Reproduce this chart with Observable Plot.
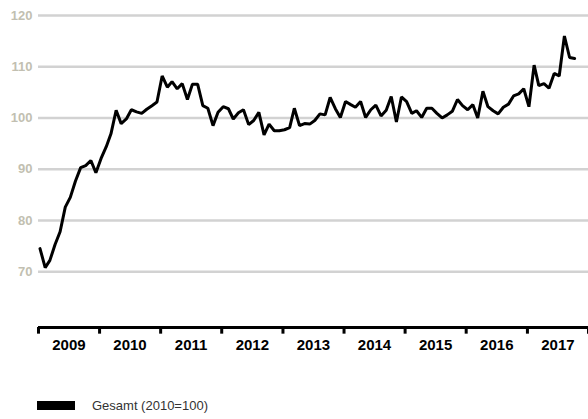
<!DOCTYPE html>
<html>
<head>
<meta charset="utf-8">
<script src="https://cdn.jsdelivr.net/npm/d3@7"></script>
<script src="https://cdn.jsdelivr.net/npm/@observablehq/plot@0.6"></script>
<style>
  html, body { margin: 0; padding: 0; background: #fff; }
  #wrap { position: relative; width: 588px; height: 419px; overflow: hidden; }
  #legend { position: absolute; left: 37px; top: 398px; font: 13px "Liberation Sans", Arial, sans-serif; color: #333; display: flex; align-items: center; }
  #legend .sw { width: 38px; height: 9px; background: #000; margin-right: 17px; }
</style>
</head>
<body>
<div id="wrap">
  <div id="chart"></div>
  <div id="legend"><div class="sw"></div><span>Gesamt (2010=100)</span></div>
</div>
<script>
const startMonth = "2009-01";
const values = [
  74.5, 70.8, 72.2, 75.3, 77.8, 82.6, 84.5, 87.7, 90.3, 90.7, 91.7, 89.3,
  92.1, 94.4, 96.9, 101.5, 98.9, 99.8, 101.6, 101.2, 100.9, 101.7, 102.4, 103.1,
  108.2, 106.0, 107.1, 105.7, 106.7, 103.6, 106.6, 106.6, 102.4, 101.9, 98.5, 101.1,
  102.2, 101.8, 99.8, 101.0, 101.6, 98.7, 99.5, 101.1, 96.7, 98.8, 97.5, 97.5,
  97.7, 98.1, 101.9, 98.5, 98.9, 98.8, 99.5, 100.8, 100.6, 104.0, 101.8, 100.1,
  103.2, 102.6, 102.1, 103.2, 100.1, 101.6, 102.5, 100.4, 101.5, 104.2, 99.2, 104.1,
  103.2, 100.9, 101.4, 100.1, 101.9, 101.9, 100.9, 100.0, 100.6, 101.3, 103.6, 102.4,
  101.6, 102.6, 100.0, 105.2, 102.2, 101.4, 100.8, 102.1, 102.7, 104.3, 104.7, 105.7,
  102.2, 110.3, 106.3, 106.7, 105.8, 108.7, 108.2, 116.0, 111.8, 111.6
];
const years = ["2009", "2010", "2011", "2012", "2013", "2014", "2015", "2016", "2017"];
const yTicks = [70, 80, 90, 100, 110, 120];
const seriesName = "Gesamt (2010=100)";

const start = new Date(startMonth + "-01T00:00:00Z");
const data = values.map((v, i) => ({
  date: new Date(Date.UTC(start.getUTCFullYear(), start.getUTCMonth() + i, 10)),
  value: v
}));
const yearStarts = years.map(y => new Date(Date.UTC(+y, 0, 1))).concat([new Date(Date.UTC(+years[years.length - 1] + 1, 0, 1))]);
const yearMids = years.map(y => ({ year: y, date: new Date(Date.UTC(+y, 6, 2)) }));
const yMin = 59.1;
const tickLen = 1.3;

const chart = Plot.plot({
  width: 588,
  height: 392,
  marginTop: 15,
  marginBottom: 65,
  marginLeft: 38,
  marginRight: 0,
  style: { fontFamily: "'Liberation Sans', Arial, sans-serif", background: "#fff", overflow: "visible" },
  x: { type: "utc", domain: [yearStarts[0], yearStarts[yearStarts.length - 1]], axis: null },
  y: { type: "linear", domain: [yMin, 120], axis: null },
  marks: [
    Plot.ruleY(yTicks, { y: d => d, stroke: "#d2d2d2", strokeWidth: 2.5 }),
    Plot.text(yTicks, { x: () => yearStarts[0], y: d => d, text: d => String(d), textAnchor: "end", dx: -6, fill: "#c2bfb1", fontWeight: "bold", fontSize: 13 }),
    Plot.line(data, { x: "date", y: "value", stroke: "#000", strokeWidth: 3, strokeLinejoin: "miter" }),
    Plot.ruleY([yMin], { y: d => d, stroke: "#000", strokeWidth: 3 }),
    Plot.ruleX(yearStarts, { x: d => d, y1: () => yMin, y2: () => yMin - tickLen, stroke: "#000", strokeWidth: 3 }),
    Plot.text(yearMids, { x: "date", y: () => yMin, text: "year", dy: 18, fill: "#000", fontWeight: "bold", fontSize: 15 })
  ]
});
document.getElementById("chart").appendChild(chart);
</script>
</body>
</html>
